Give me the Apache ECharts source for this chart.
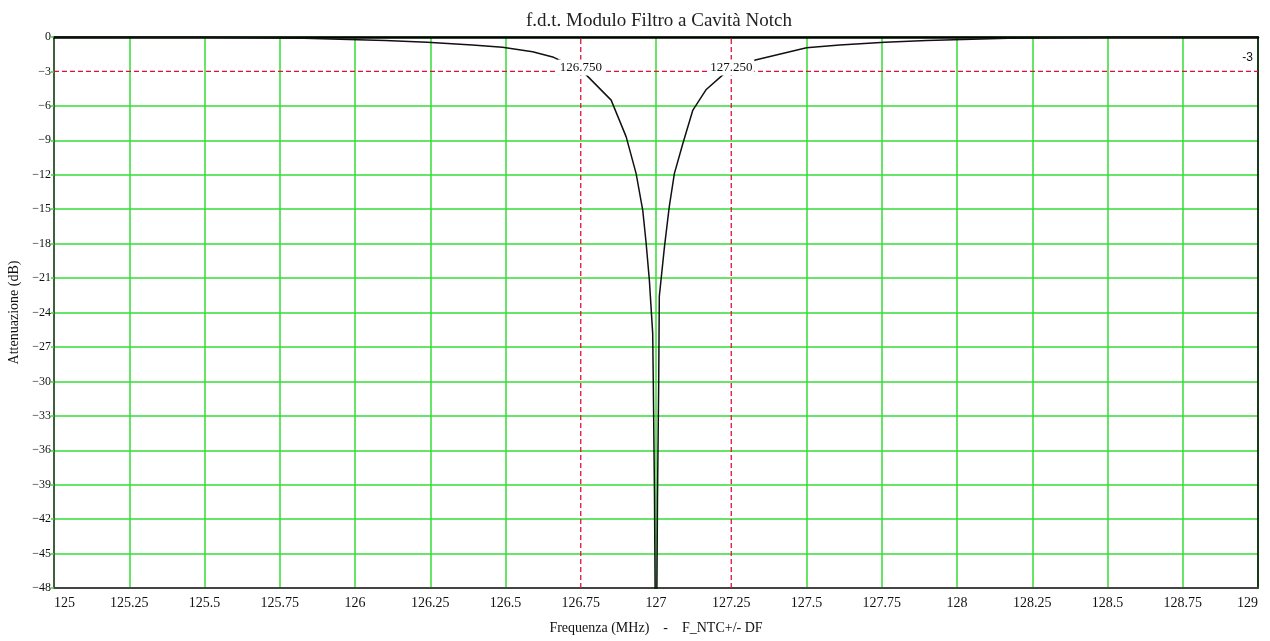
<!DOCTYPE html>
<html>
<head>
<meta charset="utf-8">
<script src="https://cdn.jsdelivr.net/npm/echarts@6/dist/echarts.min.js"></script>
<style>html,body{margin:0;padding:0;background:#fff}#c{width:1270px;height:641px}</style>
</head>
<body>
<div id="c"></div>
<script>
// Frequency (MHz) and attenuation (dB)
const freq = [125.00, 125.50, 125.83, 126.10, 126.24, 126.39, 126.49, 126.59, 126.66, 126.72, 126.768, 126.851, 126.901, 126.934, 126.956, 126.967, 126.978, 126.989, 126.991, 126.995, 127.000, 127.005, 127.009, 127.011, 127.028, 127.044, 127.061, 127.089, 127.122, 127.166, 127.222, 127.28, 127.33, 127.50, 127.61, 127.76, 127.90, 128.17, 128.50, 129.00];
const atten = [0, -0.03, -0.1, -0.3, -0.46, -0.7, -0.9, -1.28, -1.77, -2.5, -3.3, -5.5, -8.7, -11.9, -15.1, -17.9, -21.2, -25.8, -30.0, -40.0, -60.0, -40.0, -30.0, -22.6, -18.3, -14.8, -11.9, -9.3, -6.4, -4.6, -3.3, -2.5, -2.0, -0.93, -0.7, -0.46, -0.3, -0.1, -0.03, 0];
const cutLevel = -3;
const cutFreqs = [126.75, 127.25];
const cutLabels = ['126.750', '127.250'];
const levelLabel = '-3';
const xTickMin = 125, xTickMax = 129, xTickStep = 0.25;
const yTickMin = -48, yTickMax = 0, yTickStep = 3;
const titleText = 'f.d.t. Modulo Filtro a Cavità Notch';
const xName = 'Frequenza (MHz)    -    F_NTC+/- DF';
const yName = 'Attenuazione (dB)';

const chart = echarts.init(document.getElementById('c'), null, {renderer: 'canvas'});
const serif = 'Liberation Serif, Times New Roman, serif';
const green = '#33dd33';
const red = '#e0103c';
const curve = freq.map((f, i) => [f, atten[i]]);

// grid line colours: no green line where a red dashed reference line lies
const xCount = Math.round((xTickMax - xTickMin) / xTickStep) + 1;
const yCount = Math.round((yTickMax - yTickMin) / yTickStep) + 1;
const xGridColors = Array.from({length: xCount}, (_, i) => {
  const v = xTickMin + i * xTickStep;
  return cutFreqs.some(f => Math.abs(f - v) < 1e-9) ? 'rgba(0,0,0,0)' : green;
});
const yGridColors = Array.from({length: yCount}, (_, i) => {
  const v = yTickMin + i * yTickStep;
  return Math.abs(v - cutLevel) < 1e-9 ? 'rgba(0,0,0,0)' : green;
});

// reference lines built from the data arrays (drawn through the axes)
const refLines = [[[xTickMin, cutLevel], [xTickMax, cutLevel]]]
  .concat(cutFreqs.map(f => [[f, yTickMin], [f, yTickMax]]));

const option = {
  backgroundColor: '#ffffff',
  animation: false,
  title: {
    text: titleText, left: 654, top: 7, textAlign: 'center',
    textStyle: {fontFamily: serif, fontSize: 19, fontWeight: 'normal', color: '#222'}
  },
  grid: {left: 54, right: 12, top: 37, bottom: 53, show: false, containLabel: false, outerBoundsMode: 'none'},
  xAxis: [{
    type: 'value', min: xTickMin, max: xTickMax, interval: xTickStep,
    name: xName, nameLocation: 'middle', nameGap: 33,
    nameTextStyle: {fontFamily: serif, fontSize: 14, color: '#111'},
    axisLine: {show: true, onZero: false, lineStyle: {color: '#444', width: 2}},
    axisTick: {show: false},
    axisLabel: {fontFamily: serif, fontSize: 14, color: '#111', margin: 8, alignMinLabel: 'left', alignMaxLabel: 'right'},
    splitLine: {show: true, showMinLine: true, showMaxLine: true, lineStyle: {color: xGridColors, width: 1.5}}
  }, {
    type: 'value', min: xTickMin, max: xTickMax, position: 'top',
    axisLine: {show: true, onZero: false, lineStyle: {color: '#000', width: 2.5}},
    axisTick: {show: false}, axisLabel: {show: false}, splitLine: {show: false}
  }],
  yAxis: [{
    type: 'value', min: yTickMin, max: yTickMax, interval: yTickStep,
    name: yName, nameLocation: 'middle', nameGap: 28, nameRotate: 90,
    nameTextStyle: {fontFamily: serif, fontSize: 14, color: '#111'},
    axisLine: {show: true, onZero: false, lineStyle: {color: '#333', width: 1.5}},
    axisTick: {show: true, length: 3, lineStyle: {color: green, width: 1.5}},
    axisLabel: {fontFamily: serif, fontSize: 12, color: '#111', margin: 3,
      formatter: v => String(v).replace('-', '\u2212')},
    splitLine: {show: true, showMinLine: true, showMaxLine: true, lineStyle: {color: yGridColors, width: 1.5}}
  }, {
    type: 'value', min: yTickMin, max: yTickMax, position: 'right',
    axisLine: {show: true, onZero: false, lineStyle: {color: '#000', width: 1.5}},
    axisTick: {show: false}, axisLabel: {show: false}, splitLine: {show: false}
  }],
  series: refLines.map(d => ({
      type: 'line', data: d, showSymbol: false, symbol: 'none', silent: true, z: 3,
      color: red, lineStyle: {color: red, type: [5, 3], width: 1.3}
    }))
    .concat([{
      type: 'line', data: curve, showSymbol: false, symbol: 'none', clip: true, z: 5,
      color: '#111', lineStyle: {color: '#111', width: 1.5},
      markPoint: {
        symbol: 'circle', symbolSize: 0, silent: true, z: 10,
        label: {show: true, fontFamily: serif, fontSize: 13, color: '#111', backgroundColor: '#fff',
          padding: [1, 2, 2, 2], offset: [0, -4], position: 'inside'},
        data: cutFreqs.map((f, i) => ({coord: [f, cutLevel], value: cutLabels[i],
          label: {formatter: cutLabels[i]}}))
          .concat([{coord: [xTickMax, cutLevel], value: levelLabel,
            label: {formatter: levelLabel, backgroundColor: 'transparent', fontFamily: 'Liberation Sans, Arial, sans-serif',
              fontSize: 12, align: 'right', offset: [-3, -14]}}])
      }
    }])
};
chart.setOption(option);
</script>
</body>
</html>
